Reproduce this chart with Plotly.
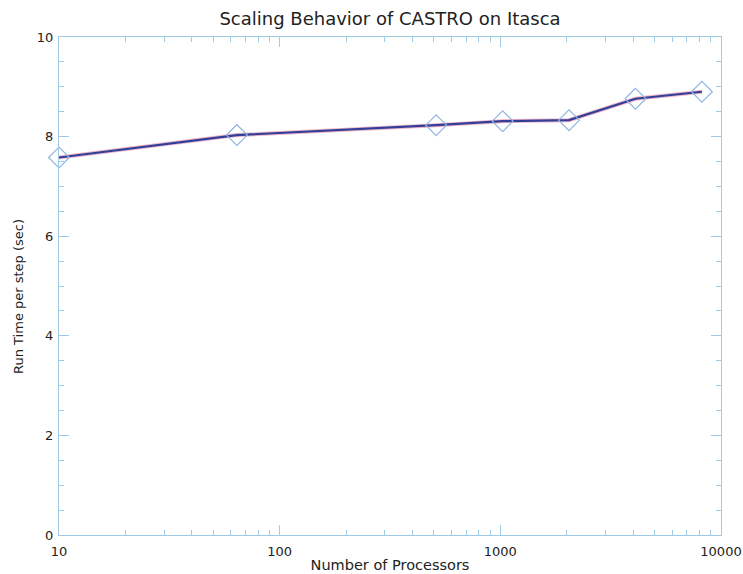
import plotly.graph_objects as go

# Strong-scaling run: processor counts and wall time per step
processors = [10, 64, 512, 1024, 2048, 4096, 8192]
run_time = [7.58, 8.03, 8.23, 8.31, 8.33, 8.76, 8.90]

x_tick_vals = [10, 100, 1000, 10000]
x_tick_text = ["10", "100", "1000", "10000"]
y_tick_vals = [0, 2, 4, 6, 8, 10]

# logarithmic minor ticks: 2..9 within each decade
x_minor_vals = [m * 10 ** d for d in (1, 2, 3) for m in range(2, 10)]

axis_color = "#9fcbe6"
font = "DejaVu Sans, Liberation Sans, sans-serif"

# plot-area geometry in pixels
left, right, top, bottom = 59, 721, 37, 535
W, H = 743, 574

fig = go.Figure()

# soft red underlay gives the line its warm fringe
fig.add_trace(go.Scatter(
    x=processors, y=run_time, mode="lines",
    line=dict(color="rgba(230,120,150,0.55)", width=4),
    hoverinfo="skip", showlegend=False,
))
fig.add_trace(go.Scatter(
    x=processors, y=run_time, mode="lines",
    line=dict(color="#2f3f9a", width=2.2),
    showlegend=False,
))
fig.add_trace(go.Scatter(
    x=processors, y=run_time, mode="markers",
    marker=dict(symbol="diamond-open", size=16, color="#8fb6e2",
                line=dict(width=1.2, color="#8fb6e2")),
    cliponaxis=False, showlegend=False,
))

fig.update_layout(
    width=W, height=H,
    margin=dict(l=left, r=W - right, t=top, b=H - bottom),
    paper_bgcolor="white", plot_bgcolor="white",
    font=dict(family=font, size=12, color="#222"),
    title=dict(text="Scaling Behavior of CASTRO on Itasca",
               x=(left + right) / 2 / W, xanchor="center",
               y=1 - 19 / H, yanchor="middle",
               font=dict(size=18, color="#222")),
)

# y-axis title sits a little below the plot's vertical centre
fig.add_annotation(
    text="Run Time per step (sec)", textangle=-90,
    xref="paper", yref="paper",
    x=(18 - left) / (right - left), y=(bottom - 297) / (bottom - top),
    xanchor="center", yanchor="middle", showarrow=False,
    font=dict(size=13, color="#222"),
)

fig.update_xaxes(
    type="log", range=[1, 4], automargin=False,
    tickvals=x_tick_vals, ticktext=x_tick_text,
    ticks="inside", ticklen=10, tickcolor=axis_color,
    minor=dict(tickvals=x_minor_vals, ticks="inside", ticklen=5,
               tickcolor=axis_color, showgrid=False),
    showline=True, linecolor=axis_color, linewidth=1, mirror="allticks",
    showgrid=False, zeroline=False,
    tickfont=dict(size=13), ticklabelstandoff=4,
    title=dict(text="Number of Processors", font=dict(size=14.5), standoff=2),
)
fig.update_yaxes(
    range=[0, 10], automargin=False,
    tickvals=y_tick_vals,
    ticks="inside", ticklen=10, tickcolor=axis_color,
    minor=dict(ticks="inside", ticklen=5, dtick=0.5, tickcolor=axis_color, showgrid=False),
    showline=True, linecolor=axis_color, linewidth=1, mirror="allticks",
    showgrid=False, zeroline=False,
    tickfont=dict(size=13), ticklabelstandoff=2,
)

fig.write_html("out.html")
